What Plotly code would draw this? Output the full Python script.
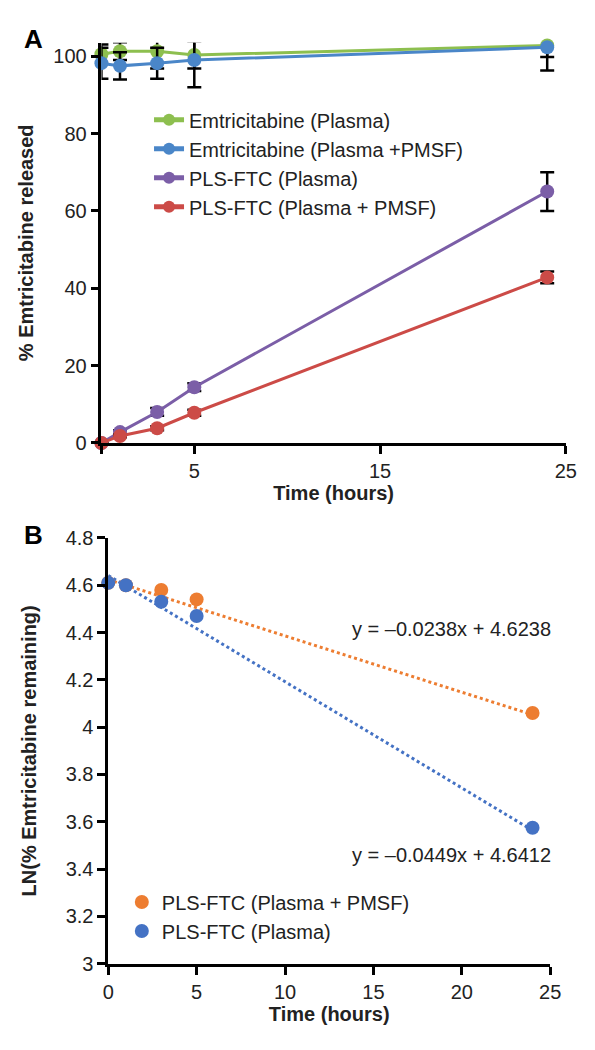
import plotly.graph_objects as go

W, H = 595, 1050

# ---------------- Panel A data ----------------
time_a = [0, 1, 3, 5, 24]
ftc_plasma = [100.5, 101.3, 101.3, 100.3, 102.8]
ftc_plasma_err = [2.5, 2.3, 4.5, 3.5, 3.0]
ftc_pmsf = [98.2, 97.5, 98.2, 99.0, 102.3]
ftc_pmsf_err = [4.0, 3.5, 4.0, 7.0, 6.0]
pls_plasma = [0, 2.8, 8.0, 14.4, 65.0]
pls_plasma_err = [0, 0.5, 1.0, 1.0, 5.0]
pls_pmsf = [0, 1.8, 3.8, 7.8, 42.8]
pls_pmsf_err = [0, 0.3, 0.5, 0.8, 1.5]
names_a = ["Emtricitabine (Plasma)", "Emtricitabine (Plasma +PMSF)",
           "PLS-FTC (Plasma)", "PLS-FTC (Plasma + PMSF)"]
colors_a = ["#8dbf4f", "#4a86c8", "#7b5ea7", "#cc4b47"]
ticks_a_x = [0, 5, 15, 25]
ticklabels_a_x = ["", "5", "15", "25"]
ticks_a_y = [0, 20, 40, 60, 80, 100]

# ---------------- Panel B data ----------------
time_b = [0, 1, 3, 5, 24]
ln_pmsf = [4.61, 4.60, 4.58, 4.54, 4.06]
ln_plasma = [4.61, 4.60, 4.53, 4.47, 3.575]
names_b = ["PLS-FTC (Plasma + PMSF)", "PLS-FTC (Plasma)"]
colors_b = ["#ed7d31", "#4472c4"]
fit_slopes = [-0.0238, -0.0449]
fit_intercepts = [4.6238, 4.6412]
fit_x = [0, 24]
eq_labels = ["y = \u20130.0238x + 4.6238", "y = \u20130.0449x + 4.6412"]
eq_pos_x = [19.4, 19.4]
eq_pos_y = [4.415, 3.46]
ticks_b_y = [3, 3.2, 3.4, 3.6, 3.8, 4, 4.2, 4.4, 4.6, 4.8]
ticklabels_b_y = ["3", "3.2", "3.4", "3.6", "3.8", "4", "4.2", "4.4", "4.6", "4.8"]
ticks_b_x = [0, 5, 10, 15, 20, 25]

FONT = "Liberation Sans, Arial, Helvetica, sans-serif"

fig = go.Figure()

series_a = [(ftc_plasma, ftc_plasma_err), (ftc_pmsf, ftc_pmsf_err),
            (pls_plasma, pls_plasma_err), (pls_pmsf, pls_pmsf_err)]
for (vals, errs), name, col in zip(series_a, names_a, colors_a):
    fig.add_trace(go.Scatter(
        x=time_a, y=vals, name=name, mode="lines+markers",
        line=dict(color=col, width=3),
        marker=dict(color=col, size=14),
        error_y=dict(type="data", array=errs, visible=True,
                     color="black", thickness=2.5, width=7),
        cliponaxis=False, xaxis="x", yaxis="y", legend="legend"))

for vals, name, col, m, b in zip([ln_pmsf, ln_plasma], names_b, colors_b,
                                 fit_slopes, fit_intercepts):
    fig.add_trace(go.Scatter(
        x=fit_x, y=[m * xv + b for xv in fit_x], mode="lines",
        line=dict(color=col, width=3, dash="dot"), showlegend=False,
        hoverinfo="skip", xaxis="x2", yaxis="y2"))
for vals, name, col in zip([ln_pmsf, ln_plasma], names_b, colors_b):
    fig.add_trace(go.Scatter(
        x=time_b, y=vals, name=name, mode="markers",
        marker=dict(color=col, size=14),
        cliponaxis=False, xaxis="x2", yaxis="y2", legend="legend2"))

axis_common = dict(showline=True, linecolor="black", linewidth=2.5,
                   ticks="outside", ticklen=8, tickwidth=2.5,
                   tickcolor="black", showgrid=False, zeroline=False,
                   tickfont=dict(size=20, color="#222"))

YTOP_A = 103.5
PX_PER_UNIT_A = 3.95
top_px_a = 433 - YTOP_A * PX_PER_UNIT_A

fig.update_layout(
    width=W, height=H,
    margin=dict(l=0, r=0, t=0, b=0),
    paper_bgcolor="white", plot_bgcolor="white",
    font=dict(family=FONT, color="#222"),
    xaxis=dict(domain=[90 / W, 568 / W], range=[0, 25], anchor="y",
               tickvals=ticks_a_x, ticktext=ticklabels_a_x,
               title=dict(text="<b>Time (hours)</b>", font=dict(size=20), standoff=6),
               **axis_common),
    yaxis=dict(domain=[1 - 433 / H, 1 - top_px_a / H], range=[0, YTOP_A], anchor="x",
               tickvals=ticks_a_y,
               title=dict(text="<b>% Emtricitabine released</b>", font=dict(size=20), standoff=15),
               **axis_common),
    xaxis2=dict(domain=[97 / W, 552 / W], range=[0, 25], anchor="y2",
                tickvals=ticks_b_x,
                title=dict(text="<b>Time (hours)</b>", font=dict(size=20), standoff=6),
                **axis_common),
    yaxis2=dict(domain=[1 - 965 / H, 1 - 530 / H], range=[3, 4.8], anchor="x2",
                tickvals=ticks_b_y, ticktext=ticklabels_b_y,
                title=dict(text="<b>LN(% Emtricitabine remaining)</b>", font=dict(size=20), standoff=24),
                **axis_common),
    legend=dict(x=139 / W, y=1 - 83 / H, xanchor="left", yanchor="top",
                font=dict(size=20, color="#222"), bgcolor="rgba(0,0,0,0)",
                tracegroupgap=0, itemsizing="constant"),
    legend2=dict(x=111 / W, y=1 - 882 / H, xanchor="left", yanchor="top",
                 font=dict(size=20, color="#222"), bgcolor="rgba(0,0,0,0)",
                 tracegroupgap=0),
    showlegend=True,
)

annotations = [
    dict(text="<b>A</b>", x=8 / W, y=1 - 20 / H, xref="paper", yref="paper",
         xanchor="left", yanchor="middle", showarrow=False, font=dict(size=26, color="black")),
    dict(text="<b>B</b>", x=8 / W, y=1 - 527 / H, xref="paper", yref="paper",
         xanchor="left", yanchor="middle", showarrow=False, font=dict(size=26, color="black")),
]
for t, ex, ey in zip(eq_labels, eq_pos_x, eq_pos_y):
    annotations.append(dict(text=t, x=ex, y=ey, xref="x2", yref="y2",
                            xanchor="center", yanchor="middle", showarrow=False,
                            font=dict(size=20, color="#222")))
fig.update_layout(annotations=annotations)

fig.write_html("out.html")
